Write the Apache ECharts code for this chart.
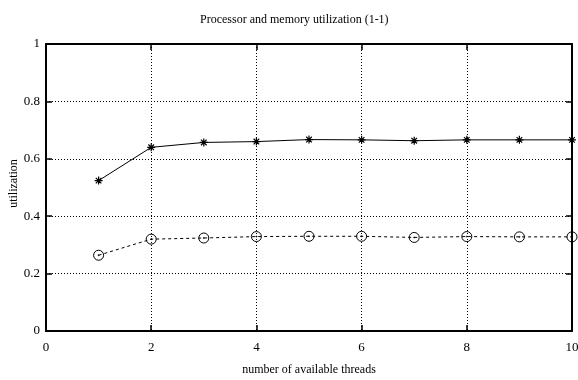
<!DOCTYPE html>
<html>
<head>
<meta charset="utf-8">
<script src="https://cdn.jsdelivr.net/npm/echarts@6/dist/echarts.min.js"></script>
<style>html,body{margin:0;padding:0;background:#fff}#c{width:578px;height:380px}</style>
</head>
<body>
<div id="c"></div>
<script>
var threads = [1, 2, 3, 4, 5, 6, 7, 8, 9, 10];
var processorUtil = [0.524, 0.640, 0.657, 0.660, 0.667, 0.666, 0.663, 0.666, 0.666, 0.666];
var memoryUtil = [0.264, 0.320, 0.324, 0.329, 0.330, 0.330, 0.326, 0.329, 0.328, 0.328];
var titleText = 'Processor and memory utilization (1-1)';
var xName = 'number of available threads';
var yName = 'utilization';

var FONT = 'Liberation Serif';
function pairs(xs, ys) { return xs.map(function (x, i) { return [x, ys[i]]; }); }

var chart = echarts.init(document.getElementById('c'), null, { renderer: 'canvas' });
var axisLine = { show: true, onZero: false, lineStyle: { color: '#000', width: 2 } };
var tick = { show: true, inside: true, length: 6, lineStyle: { color: '#000', width: 1.5 } };
var split = { show: true, lineStyle: { color: '#000', width: 1, type: [1, 2] } };

chart.setOption({
  animation: false,
  backgroundColor: '#fff',
  title: {
    text: titleText,
    left: 195, top: 9,
    textStyle: { fontFamily: FONT, fontSize: 12, fontWeight: 'normal', color: '#000' }
  },
  grid: { left: 46, right: 6, top: 44, bottom: 49, containLabel: false, outerBoundsMode: 'none' },
  xAxis: [{
    type: 'value', min: 0, max: 10, interval: 2, position: 'bottom',
    name: xName, nameLocation: 'middle', nameGap: 33, nameMoveOverlap: false,
    nameTextStyle: { fontFamily: FONT, fontSize: 12, color: '#000' },
    axisLine: axisLine, axisTick: tick, splitLine: split,
    axisLabel: { fontFamily: FONT, fontSize: 13, color: '#000', margin: 10 }
  }, {
    type: 'value', min: 0, max: 10, interval: 2, position: 'top',
    axisLine: axisLine, axisTick: tick, splitLine: { show: false },
    axisLabel: { show: false }
  }],
  yAxis: [{
    type: 'value', min: 0, max: 1, interval: 0.2, position: 'left',
    name: yName, nameLocation: 'middle', nameGap: 26, nameRotate: 90, nameMoveOverlap: false,
    nameTextStyle: { fontFamily: FONT, fontSize: 12, color: '#000', padding: [0, 0, 0, 8] },
    axisLine: axisLine, axisTick: tick, splitLine: split,
    axisLabel: { fontFamily: FONT, fontSize: 13, color: '#000', margin: 6 }
  }, {
    type: 'value', min: 0, max: 1, interval: 0.2, position: 'right',
    axisLine: axisLine, axisTick: tick, splitLine: { show: false },
    axisLabel: { show: false }
  }],
  series: [{
    name: 'processor', type: 'line', xAxisIndex: 0, yAxisIndex: 0,
    data: pairs(threads, processorUtil),
    symbol: 'path://M0,5L10,5M5,0L5,10M1.5,1.5L8.5,8.5M8.5,1.5L1.5,8.5',
    symbolSize: 8,
    itemStyle: { color: 'rgba(0,0,0,0)', borderColor: '#000', borderWidth: 1.2 },
    lineStyle: { color: '#000', width: 1, type: 'solid' },
    z: 5
  }, {
    name: 'memory', type: 'line', xAxisIndex: 0, yAxisIndex: 0,
    data: pairs(threads, memoryUtil),
    symbol: 'path://M10,5A5,5 0 1 1 0,5A5,5 0 1 1 10,5Z M5.5,5A0.5,0.5 0 1 1 4.5,5A0.5,0.5 0 1 1 5.5,5Z',
    symbolSize: 10,
    itemStyle: { color: 'rgba(0,0,0,0)', borderColor: '#000', borderWidth: 1 },
    lineStyle: { color: '#000', width: 1, type: [3, 3] },
    z: 5
  }]
});
</script>
</body>
</html>
